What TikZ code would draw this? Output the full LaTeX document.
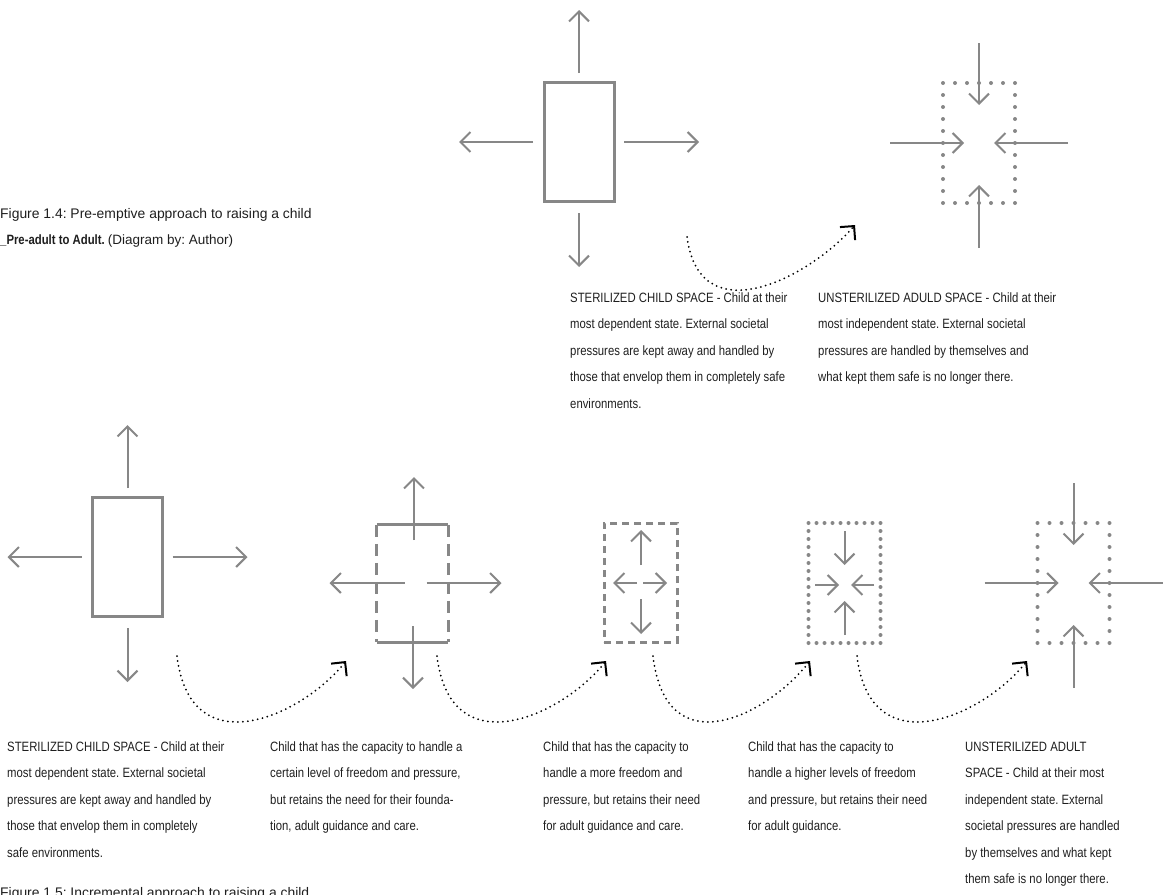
\documentclass[tikz,border=0pt]{standalone}
\usepackage{fontspec}
\setmainfont{Liberation Sans}[FakeStretch=0.84]
\newfontfamily\capfont{Liberation Sans}
\usetikzlibrary{arrows.meta}
\definecolor{boxgray}{RGB}{135,135,135}
\definecolor{inkgray}{RGB}{30,30,30}
\frenchspacing
\tikzset{
  txt/.style={anchor=base west, align=left, inner sep=0pt, text=inkgray,
              font=\fontsize{13.5}{26.5}\selectfont},
  push/.style={draw=boxgray, line width=2pt, -{Straight Barb[length=10pt,width=20pt]}},
  hop/.style={draw=black, line width=2pt, line cap=round, dash pattern=on 0pt off 5pt,
              -{Straight Barb[length=10pt,width=20pt]}},
  sterilebox/.style={draw=boxgray, line width=3pt, minimum width=70pt, minimum height=119pt, inner sep=0pt},
  dashbox/.style={draw=boxgray, line width=3pt, dash pattern=on 7pt off 5pt,
                  minimum width=73pt, minimum height=119pt, inner sep=0pt},
  dotbox/.style={draw=boxgray, line width=4pt, line cap=round, dash pattern=on 0pt off 12pt,
                 minimum width=72pt, minimum height=120pt, inner sep=0pt}
}
\begin{document}
\begin{tikzpicture}[x=1pt, y=-1pt]
\useasboundingbox (0,0) rectangle (1175,894);

% captions
\node[txt] (capPre) at (0,244.5) {\capfont\fontsize{13.9}{26.5}\selectfont Figure 1.4: Pre-emptive approach to raising a child\\\textbf{\rmfamily\fontsize{13.5}{26.5}\selectfont\_Pre-adult to Adult.} \capfont(Diagram by: Author)};
\node[txt] (capInc) at (0,897) {\capfont\fontsize{13.9}{26.5}\selectfont Figure 1.5: Incremental approach to raising a child};

% boxes
\node[sterilebox] (topSterile) at (579,142) {};
\node[dotbox] (topAdult) at (979,143) {};
\node[sterilebox] (stepOne) at (127.5,557) {};
\node[minimum width=71pt, minimum height=117pt, inner sep=0pt] (stepTwo) at (412.5,583.5) {};
\draw[boxgray, line width=3pt] (stepTwo.north west) -- (stepTwo.north east);
\draw[boxgray, line width=3pt] (stepTwo.south west) -- (stepTwo.south east);
\draw[boxgray, line width=3pt, dash pattern=on 12pt off 7pt] (stepTwo.north west) -- (stepTwo.south west);
\draw[boxgray, line width=3pt, dash pattern=on 12pt off 7pt] (stepTwo.north east) -- (stepTwo.south east);
\node[dashbox] (stepThree) at (640.5,582.5) {};
\node[dotbox, dash pattern=on 0pt off 8pt] (stepFour) at (844.5,583) {};
\node[dotbox] (stepFive) at (1073.5,583) {};

% pressures pushed outwards
\foreach \cx/\cy in {579/142, 127.5/557} {
  \draw[push] (\cx,\cy-69) -- (\cx,\cy-132);
  \draw[push] (\cx,\cy+71) -- (\cx,\cy+125);
  \draw[push] (\cx-46,\cy) -- (\cx-120,\cy);
  \draw[push] (\cx+45,\cy) -- (\cx+120,\cy);
}
\draw[push] (414,540) -- (414,477);
\draw[push] (413,626) -- (413,689);
\draw[push] (404.5,583) -- (329.5,583);
\draw[push] (426.5,583) -- (501.5,583);
\draw[push] (641,565) -- (641,530);
\draw[push] (641,599) -- (641,634);
\draw[push] (637,583) -- (613,583);
\draw[push] (643,583) -- (667,583);

% pressures pushed inwards
\foreach \cx/\cy in {979/143, 1073.5/583} {
  \draw[push] (\cx,\cy-100) -- (\cx,\cy-38);
  \draw[push] (\cx,\cy+105) -- (\cx,\cy+42);
  \draw[push] (\cx-89,\cy) -- (\cx-15,\cy);
  \draw[push] (\cx+89,\cy) -- (\cx+15,\cy);
}
\draw[push] (844.5,531) -- (844.5,565);
\draw[push] (844.5,635) -- (844.5,601);
\draw[push] (815,585) -- (839,585);
\draw[push] (874,585) -- (851,585);

% transitions
\coordinate (topFrom) at (687,237);
\coordinate (topTo) at (855,225);
\draw[hop] (topFrom) .. controls +(13,98) and +(-45,52) .. (topTo);
\foreach \s/\e [count=\i] in {177/346, 437/606, 653/810, 857/1027} {
  \coordinate (from\i) at (\s,656);
  \coordinate (to\i) at (\e,661);
  \draw[hop] (from\i) .. controls +(13,110) and +(-45,56) .. (to\i);
}

% descriptions
\node[txt] (topSterileTxt) at (570,408) {STERILIZED CHILD SPACE - Child at their\\most dependent state. External societal\\pressures are kept away and handled by\\those that envelop them in completely safe\\environments.};
\node[txt] (topAdultTxt) at (818,381.5) {UNSTERILIZED ADULD SPACE - Child at their\\most independent state. External societal\\pressures are handled by themselves and\\what kept them safe is no longer there.};
\node[txt] (stepOneTxt) at (7,857) {STERILIZED CHILD SPACE - Child at their\\most dependent state. External societal\\pressures are kept away and handled by\\those that envelop them in completely\\safe environments.};
\node[txt] (stepTwoTxt) at (270,830.5) {Child that has the capacity to handle a\\certain level of freedom and pressure,\\but retains the need for their founda-\\tion, adult guidance and care.};
\node[txt] (stepThreeTxt) at (543,830.5) {Child that has the capacity to\\handle a more freedom and\\pressure, but retains their need\\for adult guidance and care.};
\node[txt] (stepFourTxt) at (748,830.5) {Child that has the capacity to\\handle a higher levels of freedom\\and pressure, but retains their need\\for adult guidance.};
\node[txt] (stepFiveTxt) at (965,883.5) {UNSTERILIZED ADULT\\SPACE - Child at their most\\independent state. External\\societal pressures are handled\\by themselves and what kept\\them safe is no longer there.};
\end{tikzpicture}
\end{document}
